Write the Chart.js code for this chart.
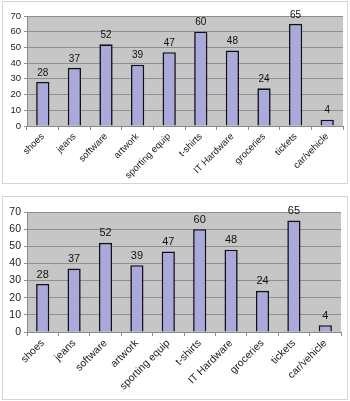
<!DOCTYPE html>
<html><head><meta charset="utf-8">
<script src="https://cdn.jsdelivr.net/npm/chart.js@4"></script>
<style>
html,body{margin:0;padding:0;background:#fff;}
.box{position:absolute;border:1px solid #d4d4d4;box-sizing:border-box;}
canvas{display:block;}
</style></head><body>
<div class="box" id="b1" style="left:2px;top:1px;width:346px;height:183px;"><canvas id="c1"></canvas></div>
<div class="box" id="b2" style="left:2px;top:196px;width:346px;height:204px;"><canvas id="c2"></canvas></div>
<script>
const categories = ["shoes","jeans","software","artwork","sporting equip","t-shirts","IT Hardware","groceries","tickets","car/vehicle"];
const values = [28,37,52,39,47,60,48,24,65,4];
const yTicks = [0,10,20,30,40,50,60,70];

const bgPlugin = {
  id:'bg',
  beforeDraw(chart){
    const {ctx, chartArea:a} = chart;
    ctx.save(); ctx.fillStyle='#c6c6c6';
    ctx.fillRect(a.left,a.top,a.right-a.left,a.bottom-a.top);
    ctx.restore();
  }
};
const labelPlugin = {
  id:'lbl',
  afterDatasetsDraw(chart){
    const {ctx} = chart;
    const meta = chart.getDatasetMeta(0);
    ctx.save();
    ctx.fillStyle='#111';
    ctx.font = chart.options.plugins.lbl.size + 'px "Liberation Sans", Arial, sans-serif';
    ctx.textAlign='center'; ctx.textBaseline='bottom';
    meta.data.forEach((el,i)=>{ ctx.fillText(String(values[i]), el.x, el.y-4); });
    ctx.restore();
  }
};

function make(id, w, h, pad, xh, fs, ls){
  const cv = document.getElementById(id);
  cv.width = w; cv.height = h; cv.style.width=w+'px'; cv.style.height=h+'px';
  return new Chart(cv, {
    type:'bar',
    data:{labels:categories, datasets:[{data:values, backgroundColor:'#a9a9dc', borderColor:'#111118', borderWidth:1.6, barPercentage:0.42, categoryPercentage:1}]},
    options:{
      responsive:false, animation:false, devicePixelRatio:1,
      layout:{padding:pad},
      plugins:{legend:{display:false}, tooltip:{enabled:false}, lbl:{size:ls}},
      scales:{
        x:{
          grid:{display:true, drawOnChartArea:false, drawTicks:true, tickLength:4, color:'#8a8a8a', offset:true},
          border:{display:true, color:'#8a8a8a'},
          ticks:{color:'#222', font:{family:'"Liberation Sans", Arial, sans-serif', size:fs}, minRotation:45, maxRotation:45, padding:1, autoSkip:false},
          afterFit(s){ s.height = xh; }
        },
        y:{
          min:0, max:70,
          afterBuildTicks(s){ s.ticks = yTicks.map(v=>({value:v})); },
          grid:{color:'#8f8f8f', drawTicks:true, tickLength:3},
          border:{display:true, color:'#8a8a8a'},
          ticks:{color:'#222', font:{family:'"Liberation Sans", Arial, sans-serif', size:fs}, padding:3},
          afterFit(s){ s.width = 24; }
        }
      }
    },
    plugins:[bgPlugin, labelPlugin]
  });
}
make('c1', 344, 181, {top:14,right:4,left:0,bottom:0}, 57, 9.5, 10);
make('c2', 344, 202, {top:15,right:6,left:0,bottom:0}, 67, 10.5, 11);
</script>
</body></html>
